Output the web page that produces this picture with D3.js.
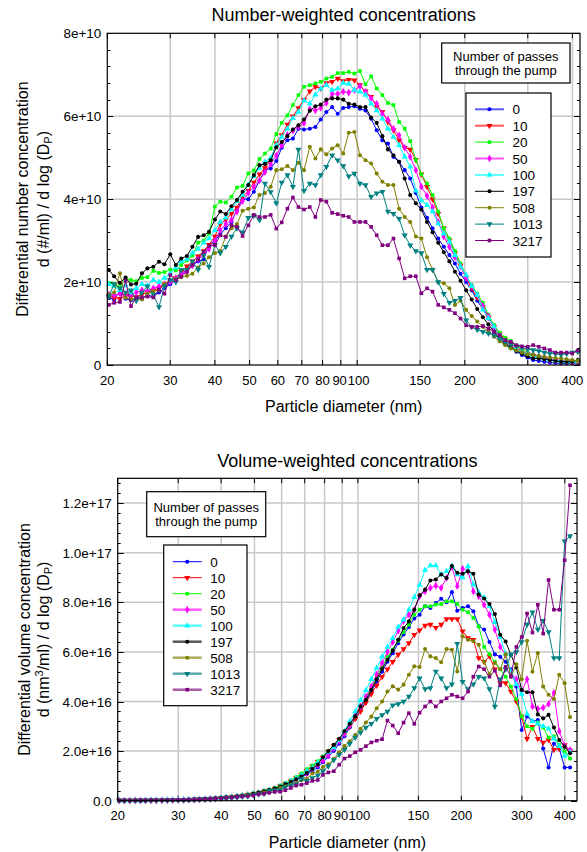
<!DOCTYPE html>
<html><head><meta charset="utf-8">
<script src="https://cdn.jsdelivr.net/npm/d3@7"></script>
<style>
body{margin:0;background:#fff;}
svg{display:block;font-family:"Liberation Sans",Arial,Helvetica,sans-serif;}
</style></head><body>
<svg id="c" width="587" height="852"></svg>
<script>
// ---------------- DATA ----------------
const diameters=[20.2,20.9,21.7,22.5,23.3,24.1,25.0,25.9,26.9,27.9,28.9,30.0,31.1,32.2,33.4,34.6,35.9,37.2,38.5,40.0,
41.4,42.9,44.5,46.1,47.8,49.6,51.4,53.3,55.2,57.3,59.4,61.5,63.8,66.1,68.5,71.0,73.7,76.4,79.1,82.0,
85.1,88.2,91.4,94.7,98.2,101.8,105.5,109.4,113.4,117.6,121.9,126.3,131.0,135.8,140.7,145.9,151.2,156.8,162.5,168.5,
174.7,181.1,187.7,194.6,201.7,209.1,216.7,224.7,232.9,241.4,250.3,259.5,269.0,278.8,289.0,299.6,310.6,322.0,333.8,346.0,
358.7,371.8,385.4,399.5,414.2];

const seriesNames=["0","10","20","50","100","197","508","1013","3217"];
const seriesColors=["#0000ff","#ff0000","#00ff00","#ff00ff","#00ffff","#000000","#808000","#008080","#800080"];
const seriesShapes=["circle","triDown","square","diamond","triUp","circle","circle","triDown","square"];

const xTickValues=[20,30,40,50,60,70,80,90,100,150,200,300,400];
const xGridValues=[30,40,50,60,70,80,90,100,150,200,300,400];
const yTicksNumber=[0,2e10,4e10,6e10,8e10];
const yLabelsNumber=["0","2e+10","4e+10","6e+10","8e+10"];
const yTicksVolume=[0,2e16,4e16,6e16,8e16,1e17,1.2e17];
const yLabelsVolume=["0.0","2.0e+16","4.0e+16","6.0e+16","8.0e+16","1.0e+17","1.2e+17"];

// Number-weighted, units of 1e10 #/ml
const numberUnit=1e10;
const num0=[1.62,1.58,1.78,1.60,1.56,1.58,1.60,1.68,1.65,1.75,1.85,1.95,2.05,2.20,2.30,2.40,2.50,2.55,2.90,3.00,
3.15,3.30,3.45,3.75,4.00,4.00,4.18,4.45,4.70,4.74,4.92,5.24,5.42,5.46,5.70,5.68,5.70,5.74,5.92,6.10,
6.22,6.06,6.20,6.22,6.24,6.18,6.14,5.94,5.66,5.42,5.34,5.02,4.90,4.70,4.50,4.15,3.80,3.55,3.30,3.05,
2.85,2.65,2.45,2.20,2.00,1.80,1.55,1.35,1.12,0.92,0.72,0.55,0.42,0.32,0.24,0.18,0.12,0.10,0.08,0.06,
0.05,0.04,0.04,0.04,0.05];
const num10=[1.65,1.62,1.60,1.68,1.66,1.64,1.70,1.75,1.80,1.85,1.95,2.02,2.10,2.25,2.38,2.50,2.62,2.75,2.90,3.10,
3.40,3.50,3.65,3.80,4.05,4.20,4.40,4.60,4.75,4.95,5.35,5.55,5.80,6.00,6.20,6.40,6.60,6.71,6.67,6.80,
6.83,6.91,6.85,6.88,6.87,6.75,6.60,6.47,6.23,6.11,5.86,5.66,5.42,5.24,5.20,4.95,4.60,4.30,4.00,3.65,
3.30,3.00,2.70,2.40,2.10,1.85,1.62,1.40,1.15,0.92,0.75,0.62,0.52,0.42,0.34,0.27,0.22,0.18,0.15,0.12,
0.10,0.08,0.07,0.07,0.07];
const num20=[1.98,1.95,1.88,2.08,2.05,2.02,2.10,2.12,2.27,2.22,2.24,2.30,2.28,2.41,2.52,2.64,2.95,3.00,3.17,3.82,
3.94,3.92,4.06,4.28,4.32,4.62,4.69,4.97,5.10,5.22,5.57,5.84,6.02,6.27,6.51,6.71,6.75,6.79,6.83,6.91,
6.95,7.04,7.04,7.07,7.03,7.09,6.77,6.96,6.67,6.51,6.32,6.27,5.86,5.70,5.40,4.95,4.60,4.38,4.10,3.70,
3.30,3.05,2.75,2.45,2.15,1.93,1.72,1.50,1.22,0.97,0.78,0.66,0.58,0.45,0.38,0.30,0.25,0.20,0.16,0.13,
0.10,0.08,0.07,0.07,0.08];
const num50=[1.70,1.68,1.72,1.66,1.70,1.75,1.80,1.78,1.85,1.90,1.95,2.00,2.10,2.20,2.25,2.40,2.55,2.65,2.80,3.00,
3.25,3.40,3.50,3.70,3.95,4.15,4.30,4.45,4.65,4.85,5.05,5.30,5.55,5.65,5.75,5.83,6.17,6.14,6.20,6.32,
6.54,6.54,6.59,6.57,6.63,6.72,6.59,6.43,6.30,6.06,5.92,5.70,5.54,5.24,5.02,4.70,4.30,4.08,3.80,3.45,
3.10,2.85,2.60,2.38,2.10,1.90,1.68,1.42,1.17,0.88,0.70,0.54,0.45,0.38,0.32,0.28,0.24,0.20,0.17,0.14,
0.12,0.10,0.09,0.08,0.10];
const num100=[1.95,1.90,1.80,1.92,1.75,1.85,1.95,1.92,2.05,2.00,2.10,2.20,2.35,2.50,2.55,2.70,2.80,2.95,3.05,3.25,
3.45,3.55,3.75,3.95,4.10,4.35,4.55,4.75,4.90,5.00,5.30,5.50,5.70,5.95,6.10,6.38,6.30,6.52,6.66,6.75,
6.63,6.67,6.80,6.78,6.63,6.59,6.51,6.30,6.14,5.94,5.70,5.50,5.30,5.02,4.78,4.20,3.97,3.86,3.70,3.41,
3.17,2.97,2.65,2.37,2.17,1.90,1.69,1.33,1.13,0.93,0.68,0.52,0.43,0.38,0.32,0.27,0.22,0.18,0.15,0.13,
0.11,0.10,0.09,0.09,0.10];
const num197=[2.29,2.14,1.98,2.11,1.94,1.96,2.21,2.33,2.37,2.49,2.43,2.67,2.41,2.57,2.63,2.85,3.09,3.13,3.21,3.51,
3.70,3.64,3.83,3.98,4.18,4.34,4.58,4.82,4.85,4.94,5.25,5.38,5.52,5.68,5.78,5.92,6.13,6.24,6.28,6.40,
6.43,6.43,6.40,6.30,6.28,6.22,6.22,5.97,5.84,5.52,5.20,5.06,4.90,4.50,4.10,3.90,3.75,3.45,3.20,2.95,
2.72,2.50,2.25,2.03,1.80,1.58,1.35,1.15,0.98,0.80,0.62,0.50,0.43,0.34,0.27,0.21,0.16,0.16,0.14,0.12,
0.10,0.08,0.08,0.08,0.12];
const num508=[1.70,1.75,2.21,1.62,1.58,1.62,1.58,1.72,1.78,1.80,1.95,2.05,2.08,2.12,2.15,2.20,2.35,2.45,2.60,2.70,
2.75,3.10,3.30,3.40,3.72,3.77,3.80,4.10,4.15,4.30,4.70,4.72,4.80,4.70,4.88,4.70,5.26,4.98,5.20,5.08,
5.22,5.30,5.10,5.60,5.62,5.06,4.94,4.86,4.62,4.42,4.34,4.34,3.77,3.57,3.45,3.10,3.05,2.60,2.30,2.00,
1.97,1.85,1.45,1.55,1.33,1.18,1.05,0.92,0.80,0.68,0.57,0.48,0.40,0.35,0.30,0.26,0.24,0.22,0.20,0.18,
0.17,0.16,0.14,0.12,0.10];
const num1013=[1.65,1.95,1.85,1.75,1.80,1.55,1.75,1.90,1.70,1.40,1.90,2.05,2.00,2.30,2.30,2.50,2.30,2.65,2.37,2.90,
2.70,2.85,3.10,3.30,3.20,3.55,3.60,3.50,4.38,4.17,3.90,4.40,4.58,4.30,5.20,4.20,4.38,4.34,4.58,4.78,
5.06,4.94,4.80,4.55,4.62,4.38,4.34,4.06,4.14,4.18,3.70,3.65,3.53,3.13,2.89,2.75,2.70,2.30,2.30,2.00,
1.72,1.50,1.55,1.62,1.08,0.92,0.85,0.80,0.76,0.72,0.64,0.56,0.50,0.45,0.42,0.38,0.36,0.34,0.30,0.28,
0.27,0.25,0.27,0.30,0.32];
const num3217=[1.45,1.50,1.52,2.03,1.42,1.63,1.63,1.65,1.63,1.82,1.72,2.17,2.05,2.13,2.25,2.41,2.55,2.73,2.87,2.89,
3.13,3.09,3.37,3.33,3.11,3.37,3.62,3.57,3.57,3.62,3.29,3.44,3.77,4.04,3.81,3.75,3.81,3.57,3.98,3.94,
3.67,3.64,3.60,3.57,3.45,3.45,3.45,3.33,3.13,2.89,2.89,3.05,2.57,2.09,2.14,2.14,1.73,1.85,1.77,1.45,
1.39,1.33,1.25,1.12,0.96,0.92,0.92,0.94,0.88,0.80,0.72,0.60,0.56,0.48,0.45,0.44,0.48,0.44,0.40,0.36,
0.30,0.30,0.30,0.28,0.35];

// Volume-weighted, units of 1e16 nm^3/ml
const volumeUnit=1e16;
const vol0=[.007,.008,.010,.010,.011,.012,.013,.016,.017,.020,.024,.028,.032,.039,.045,.052,.061,.069,.087,.100,
.118,.137,.160,.194,.230,.256,.298,.354,.416,.467,.541,.642,.740,.830,.963,1.07,1.20,1.34,1.55,1.77,
2.01,2.30,2.60,2.95,3.30,3.65,4.00,4.40,4.80,5.20,5.60,5.95,6.35,6.70,7.00,7.35,7.50,7.84,7.77,7.97,
8.14,8.00,8.41,7.66,7.77,7.84,7.64,7.03,6.90,6.40,5.90,5.80,5.60,5.30,4.60,2.85,3.40,3.20,3.25,2.10,
1.34,2.30,2.10,1.34,1.34];
const vol10=[.007,.008,.009,.010,.011,.012,.014,.016,.018,.021,.025,.029,.033,.040,.047,.055,.064,.074,.087,.104,
.127,.146,.169,.196,.233,.269,.314,.366,.420,.488,.589,.680,.792,.912,1.05,1.21,1.39,1.57,1.74,1.97,
2.21,2.45,2.70,3.00,3.30,3.60,3.95,4.30,4.65,5.00,5.30,5.60,5.89,6.12,6.36,6.69,6.87,7.06,7.10,6.97,
7.10,7.33,7.33,7.33,6.83,6.56,6.49,5.75,5.60,5.82,5.30,4.75,4.75,4.40,4.00,3.39,2.50,2.98,2.50,2.35,
2.45,2.05,2.10,2.25,2.02];
const vol20=[.009,.009,.010,.013,.014,.015,.017,.020,.023,.025,.028,.032,.036,.042,.049,.058,.072,.081,.095,.128,
.147,.163,.188,.221,.248,.296,.334,.395,.451,.515,.613,.715,.822,.953,1.10,1.27,1.42,1.59,1.78,2.00,
2.25,2.40,2.70,3.05,3.40,3.80,4.15,4.55,5.00,5.40,5.80,6.10,6.45,6.80,7.10,7.50,7.70,7.84,7.84,7.91,
7.93,8.04,8.04,7.93,7.70,7.60,7.37,7.03,6.20,5.90,5.60,5.30,5.00,4.60,4.10,3.40,3.00,2.90,3.15,2.95,
2.55,2.60,2.25,2.00,1.70];
const vol50=[.007,.008,.009,.010,.011,.013,.015,.016,.019,.022,.025,.028,.033,.039,.044,.052,.062,.072,.084,.100,
.122,.141,.162,.191,.227,.266,.307,.354,.412,.478,.556,.649,.758,.859,.972,1.10,1.30,1.44,1.62,1.83,
2.12,2.40,2.70,3.05,3.45,3.80,4.20,4.60,5.10,5.55,6.00,6.40,6.85,7.25,7.50,7.70,8.24,8.44,8.58,8.67,
8.58,8.98,9.43,8.65,9.35,9.25,8.44,8.24,7.90,7.50,6.90,6.20,5.90,5.15,4.90,4.40,4.90,3.80,3.70,3.75,
3.90,4.35,2.80,2.20,2.05];
const vol100=[.008,.009,.010,.012,.012,.014,.016,.018,.021,.023,.027,.031,.037,.044,.050,.059,.068,.080,.092,.109,
.129,.148,.174,.204,.236,.279,.324,.378,.434,.493,.583,.674,.778,.904,1.03,1.20,1.32,1.53,1.74,1.96,
2.15,2.45,2.80,3.20,3.60,4.05,4.45,4.90,5.35,5.80,6.20,6.55,7.00,7.30,7.70,8.20,8.70,9.30,9.48,9.48,
9.12,9.25,9.46,9.12,9.00,9.45,8.72,8.40,8.19,7.85,7.20,6.60,5.92,5.20,4.70,4.30,3.50,3.20,3.10,3.00,
2.90,2.50,2.20,1.80,1.95];
const vol197=[.010,.010,.011,.013,.013,.015,.018,.021,.024,.028,.031,.038,.038,.045,.051,.062,.075,.085,.097,.118,
.138,.151,.177,.205,.240,.278,.327,.383,.429,.487,.576,.658,.752,.862,.977,1.12,1.29,1.46,1.75,2.00,
2.25,2.50,2.80,3.10,3.40,3.80,4.07,4.47,4.90,5.31,5.68,6.06,6.49,6.96,7.23,7.70,8.28,8.51,8.88,8.92,
9.12,8.98,9.46,9.19,9.15,9.25,9.15,8.31,8.15,7.93,7.53,6.69,6.42,5.88,5.37,4.47,4.37,4.37,3.48,3.32,
3.46,2.95,2.45,2.18,1.91];
const vol508=[.007,.008,.012,.010,.011,.012,.013,.016,.018,.021,.025,.029,.033,.037,.042,.048,.057,.066,.078,.091,
.103,.129,.153,.175,.214,.242,.271,.326,.367,.424,.517,.578,.655,.714,.825,.888,1.10,1.17,1.36,1.47,
1.69,1.95,2.20,2.40,2.65,2.90,3.15,3.39,3.73,4.00,4.40,4.61,4.48,4.68,5.08,5.42,5.39,6.12,5.82,5.75,
5.58,6.12,6.09,5.21,6.63,6.49,6.43,6.29,5.60,5.10,5.55,5.30,5.90,5.00,5.50,4.90,6.45,5.20,5.95,4.60,
4.27,4.10,5.08,4.74,3.37];
const vol1013=[.007,.009,.010,.011,.012,.012,.015,.018,.017,.016,.024,.029,.032,.041,.045,.055,.056,.072,.071,.097,
.101,.119,.144,.170,.184,.228,.257,.278,.388,.411,.429,.539,.625,.654,.879,.794,.920,1.02,1.20,1.39,
1.64,1.85,2.05,2.30,2.55,2.75,2.95,3.10,3.30,3.46,3.60,3.85,3.90,4.00,4.20,4.54,4.94,4.50,4.54,5.21,
4.94,4.54,4.70,6.33,4.80,4.50,4.70,5.00,4.94,4.50,3.80,4.90,5.30,5.90,6.00,6.40,7.10,7.60,6.90,7.26,
6.80,5.75,5.75,10.46,10.67];
const vol3217=[.006,.007,.008,.012,.010,.012,.014,.015,.017,.021,.022,.031,.032,.038,.044,.053,.062,.074,.086,.097,
.117,.129,.156,.172,.179,.216,.258,.284,.316,.357,.362,.421,.515,.614,.644,.709,.800,.835,1.04,1.14,
1.19,1.45,1.70,1.80,1.95,2.05,2.20,2.35,2.42,2.48,3.23,3.03,2.72,3.15,3.53,3.10,3.55,3.80,4.00,3.80,
4.00,4.13,4.27,4.20,4.13,4.40,5.00,5.41,5.30,5.00,5.25,4.65,5.40,5.00,6.20,6.60,7.55,6.78,7.90,6.74,
8.90,7.70,7.70,9.70,12.72];

const numberSeries=[num0,num10,num20,num50,num100,num197,num508,num1013,num3217];
const volumeSeries=[vol0,vol10,vol20,vol50,vol100,vol197,vol508,vol1013,vol3217];

// ---------------- DRAWING ----------------
const svg=d3.select("#c");

function symbolPath(shape){
  if(shape==="circle") return d3.symbol(d3.symbolCircle,13)();
  if(shape==="square") return d3.symbol(d3.symbolSquare,13)();
  if(shape==="diamond") return d3.symbol(d3.symbolDiamond,17)();
  return d3.symbol(d3.symbolTriangle,16)();
}
function symbolRot(shape){return shape==="triDown"?" rotate(180)":"";}

function drawPanel(cfg){
  const g=svg.append("g");
  const x=d3.scaleLog().domain([20,cfg.xMax]).range([cfg.left,cfg.right]);
  const y=d3.scaleLinear().domain([0,cfg.yMax]).range([cfg.bottom,cfg.top]);

  // gridlines
  g.append("g").selectAll("line").data(xGridValues).join("line")
    .attr("x1",d=>x(d)).attr("x2",d=>x(d)).attr("y1",cfg.top).attr("y2",cfg.bottom)
    .attr("stroke","#c8c8c8").attr("stroke-width",1.5);
  g.append("g").selectAll("line").data(cfg.yTicks.filter(v=>v>0&&v<cfg.yMax)).join("line")
    .attr("x1",cfg.left).attr("x2",cfg.right).attr("y1",d=>y(d)).attr("y2",d=>y(d))
    .attr("stroke","#c8c8c8").attr("stroke-width",1.5);

  // minor + major ticks (inward), left & right
  const minors=d3.range(0,cfg.yMax+1e-6*cfg.yMax,cfg.minorStep);
  const tk=g.append("g").attr("stroke","#000").attr("stroke-width",1);
  minors.forEach(v=>{
    const yy=Math.round(y(v))+0.5;
    tk.append("line").attr("x1",cfg.left).attr("x2",cfg.left+3).attr("y1",yy).attr("y2",yy);
    tk.append("line").attr("x1",cfg.right).attr("x2",cfg.right-3).attr("y1",yy).attr("y2",yy);
  });
  cfg.yTicks.forEach(v=>{
    const yy=Math.round(y(v))+0.5;
    tk.append("line").attr("x1",cfg.left).attr("x2",cfg.left+6).attr("y1",yy).attr("y2",yy);
    tk.append("line").attr("x1",cfg.right).attr("x2",cfg.right-6).attr("y1",yy).attr("y2",yy);
  });
  xTickValues.forEach(v=>{
    const xx=x(v);
    tk.append("line").attr("x1",xx).attr("x2",xx).attr("y1",cfg.bottom).attr("y2",cfg.bottom-5);
    tk.append("line").attr("x1",xx).attr("x2",xx).attr("y1",cfg.top).attr("y2",cfg.top+5);
  });

  // series
  const line=d3.line().x((d,i)=>x(diameters[i])).y(d=>y(d*cfg.unit));
  cfg.series.forEach((arr,k)=>{
    const sg=g.append("g");
    sg.append("path").datum(arr).attr("d",line).attr("fill","none")
      .attr("stroke",seriesColors[k]).attr("stroke-width",1);
    sg.selectAll("path.m").data(arr).join("path").attr("class","m")
      .attr("d",symbolPath(seriesShapes[k]))
      .attr("transform",(d,i)=>`translate(${x(diameters[i])},${y(d*cfg.unit)})${symbolRot(seriesShapes[k])}`)
      .attr("fill",seriesColors[k]);
  });

  // frame
  g.append("rect").attr("x",cfg.left).attr("y",cfg.top)
    .attr("width",cfg.right-cfg.left).attr("height",cfg.bottom-cfg.top)
    .attr("fill","none").attr("stroke","#000").attr("stroke-width",1.2);

  // tick labels (90 and 100 sit very close, as in the original)
  const nudge={90:-1.2,100:1.5};
  g.append("g").selectAll("text").data(xTickValues).join("text")
    .attr("x",d=>x(d)+(nudge[d]||0)).attr("y",cfg.bottom+19.5).attr("text-anchor","middle")
    .attr("font-size",13).attr("fill","#000").text(d=>d);
  g.append("g").selectAll("text").data(cfg.yTicks).join("text")
    .attr("x",cfg.left-6).attr("y",d=>y(d)+5).attr("text-anchor","end")
    .attr("font-size",13.5).attr("fill","#000").text((d,i)=>cfg.yLabels[i]);

  // titles
  g.append("text").attr("x",(cfg.left+cfg.right)/2).attr("y",cfg.titleY)
    .attr("text-anchor","middle").attr("font-size",18).text(cfg.title);
  g.append("text").attr("x",(cfg.left+cfg.right)/2).attr("y",cfg.bottom+47)
    .attr("text-anchor","middle").attr("font-size",16).text("Particle diameter (nm)");
  const yc=(cfg.top+cfg.bottom)/2;
  g.append("text").attr("transform",`translate(${cfg.yTitleX1},${yc}) rotate(-90)`)
    .attr("text-anchor","middle").attr("font-size",16).text(cfg.yTitle1);
  const t2=g.append("text").attr("transform",`translate(${cfg.yTitleX2},${yc}) rotate(-90)`)
    .attr("text-anchor","middle").attr("font-size",16);
  cfg.yTitle2(t2);

  // legend title box
  const lt=cfg.legTitle;
  g.append("rect").attr("x",lt.x).attr("y",lt.y).attr("width",lt.w).attr("height",lt.h)
    .attr("fill","#fff").attr("stroke","#000").attr("stroke-width",1.2);
  g.append("text").attr("x",lt.x+lt.w/2).attr("y",lt.y+lt.h/2-2.5).attr("text-anchor","middle")
    .attr("font-size",13).text("Number of passes");
  g.append("text").attr("x",lt.x+lt.w/2).attr("y",lt.y+lt.h/2+11.5).attr("text-anchor","middle")
    .attr("font-size",13).text("through the pump");

  // legend entries
  const le=cfg.legBox;
  g.append("rect").attr("x",le.x).attr("y",le.y).attr("width",le.w).attr("height",le.h)
    .attr("fill","#fff").attr("stroke","#000").attr("stroke-width",1.2);
  seriesNames.forEach((nm,k)=>{
    const yy=le.row0+le.dy*k;
    g.append("line").attr("x1",le.x+9).attr("x2",le.x+38).attr("y1",yy).attr("y2",yy)
      .attr("stroke",seriesColors[k]).attr("stroke-width",cfg.legWidths[k])
      .attr("stroke-opacity",cfg.legWidths[k]>1.5?0.65:1);
    g.append("path").attr("d",symbolPath(seriesShapes[k]))
      .attr("transform",`translate(${le.x+23.5},${yy})${symbolRot(seriesShapes[k])}`)
      .attr("fill",seriesColors[k]);
    g.append("text").attr("x",le.x+46.5).attr("y",yy+5).attr("font-size",13.5).text(nm);
  });
}

drawPanel({
  left:107.3,right:580,top:33.3,bottom:365,xMax:420,yMax:8e10,unit:numberUnit,
  yTicks:yTicksNumber,yLabels:yLabelsNumber,minorStep:0.4e10,
  series:numberSeries,title:"Number-weighted concentrations",titleY:21,
  yTitleX1:28,yTitleX2:48.5,
  yTitle1:"Differential number concentration",
  yTitle2:t=>{t.append("tspan").text("d (#/ml) / d log (D");
    t.append("tspan").attr("font-size",11).attr("dy",3).text("P");
    t.append("tspan").attr("dy",-3).text(")");},
  legTitle:{x:441.7,y:43,w:128.3,h:40},
  legBox:{x:466,y:93,w:85,h:164,row0:109.3,dy:16.4},
  legWidths:[2,2,1,2,2,1,1,1,1]
});
drawPanel({
  left:117.7,right:577,top:478.3,bottom:800.7,xMax:434,yMax:1.3e17,unit:volumeUnit,
  yTicks:yTicksVolume,yLabels:yLabelsVolume,minorStep:0.4e16,
  series:volumeSeries,title:"Volume-weighted concentrations",titleY:466.5,
  yTitleX1:29.5,yTitleX2:48.5,
  yTitle1:"Differential volume concentration",
  yTitle2:t=>{t.append("tspan").text("d (nm");
    t.append("tspan").attr("font-size",11).attr("dy",-6).text("3");
    t.append("tspan").attr("dy",6).text("/ml) / d log (D");
    t.append("tspan").attr("font-size",11).attr("dy",3).text("P");
    t.append("tspan").attr("dy",-3).text(")");},
  legTitle:{x:146.7,y:491.7,w:119,h:45},
  legBox:{x:163.7,y:545,w:83.3,h:160.7,row0:561.7,dy:16},
  legWidths:[1,1,1,2.5,2.5,2.5,2.5,2.5,2.5]
});
</script>
</body></html>
